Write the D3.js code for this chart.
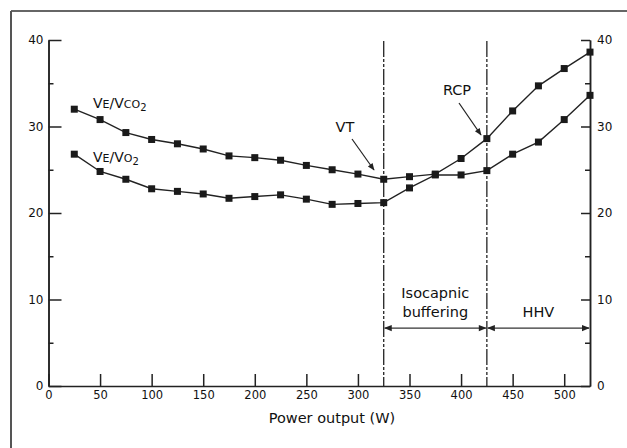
<!DOCTYPE html>
<html>
<head>
<meta charset="utf-8">
<script src="https://cdn.jsdelivr.net/npm/d3@7"></script>
<style>
  body { margin: 0; background: #fff; }
  svg { display: block; font-family: "DejaVu Sans", Verdana, sans-serif; }
</style>
</head>
<body>
<svg id="chart" width="627" height="448"></svg>
<script>
// power output steps (W)
const power = [25, 50, 75, 100, 125, 150, 175, 200, 225, 250, 275, 300, 325,
               350, 375, 400, 425, 450, 475, 500, 525];
// VE/VCO2
const veVco2 = [32.0, 30.8, 29.3, 28.5, 28.0, 27.4, 26.6, 26.4, 26.1, 25.5, 25.0,
                24.5, 23.9, 24.2, 24.5, 26.3, 28.6, 31.8, 34.7, 36.7, 38.6];
// VE/VO2
const veVo2 = [26.8, 24.8, 23.9, 22.8, 22.5, 22.2, 21.7, 21.9, 22.1, 21.6, 21.0,
               21.1, 21.2, 22.9, 24.4, 24.4, 24.9, 26.8, 28.2, 30.8, 33.6];
const xTicks = [0, 50, 100, 150, 200, 250, 300, 350, 400, 450, 500];
const yTicks = [0, 10, 20, 30, 40];
const yMinor = [5, 15, 25, 35];
const thresholds = [325, 425]; // VT, RCP

const svg = d3.select("#chart");

// frame (only top and left visible in the crop)
svg.append("line").attr("x1", 11).attr("y1", 11).attr("x2", 627).attr("y2", 11)
  .attr("stroke", "#333").attr("stroke-width", 1.5);
svg.append("line").attr("x1", 11).attr("y1", 11).attr("x2", 11).attr("y2", 448)
  .attr("stroke", "#555").attr("stroke-width", 2);

const x = d3.scaleLinear().domain([0, 525]).range([48.5, 590]);
const y = d3.scaleLinear().domain([0, 40]).range([386, 40]);

function styleAxis(g, size) {
  g.selectAll("path, line").attr("stroke", "#222").attr("stroke-width", 1.5);
  g.selectAll("text").attr("fill", "#111").style("font-size", size + "px")
    .style("font-family", "DejaVu Sans, sans-serif");
}

// left axis
svg.append("g").attr("transform", `translate(${x(0)},0)`)
  .call(d3.axisLeft(y).tickValues(yTicks).tickSize(-13).tickSizeOuter(0).tickPadding(5))
  .call(styleAxis, 12);
svg.append("g").attr("transform", `translate(${x(0)},0)`)
  .call(d3.axisLeft(y).tickValues(yMinor).tickSize(-5).tickSizeOuter(0).tickFormat(""))
  .call(styleAxis, 12);

// right axis
svg.append("g").attr("transform", `translate(${x(525)},0)`)
  .call(d3.axisRight(y).tickValues(yTicks).tickSize(-9).tickSizeOuter(0).tickPadding(7))
  .call(styleAxis, 12);
svg.append("g").attr("transform", `translate(${x(525)},0)`)
  .call(d3.axisRight(y).tickValues(yMinor).tickSize(-5).tickSizeOuter(0).tickFormat(""))
  .call(styleAxis, 12);

// bottom axis
svg.append("g").attr("transform", `translate(0,${y(0)})`)
  .call(d3.axisBottom(x).tickValues(xTicks).tickSize(-12).tickSizeOuter(0).tickPadding(5))
  .call(styleAxis, 11.5);

svg.append("text").attr("x", 332).attr("y", 423).attr("text-anchor", "middle")
  .style("font-size", "14.5px").attr("fill", "#111").text("Power output (W)");

// threshold lines
svg.selectAll(".thr").data(thresholds).enter().append("line")
  .attr("class", "thr")
  .attr("x1", d => x(d)).attr("x2", d => x(d))
  .attr("y1", 41).attr("y2", y(0))
  .attr("stroke", "#222").attr("stroke-width", 1.3)
  .attr("stroke-dasharray", "16,2,3,2,3,2");

// arrow markers
const defs = svg.append("defs");
defs.append("marker").attr("id", "ah").attr("viewBox", "0 0 10 10")
  .attr("refX", 9).attr("refY", 5).attr("markerWidth", 7).attr("markerHeight", 6)
  .attr("orient", "auto-start-reverse")
  .append("path").attr("d", "M0,1 L10,5 L0,9 Z").attr("fill", "#222");

// region arrows
const regions = [[325, 425], [425, 525]];
svg.selectAll(".reg").data(regions).enter().append("line")
  .attr("class", "reg")
  .attr("x1", d => x(d[0]) + 1).attr("x2", d => x(d[1]) - 1)
  .attr("y1", y(6.7)).attr("y2", y(6.7))
  .attr("stroke", "#333").attr("stroke-width", 1.3)
  .attr("marker-start", "url(#ah)").attr("marker-end", "url(#ah)");

svg.append("text").attr("x", x(375)).attr("y", 298).attr("text-anchor", "middle")
  .style("font-size", "14.5px").attr("fill", "#111").text("Isocapnic");
svg.append("text").attr("x", x(375)).attr("y", 317).attr("text-anchor", "middle")
  .style("font-size", "14.5px").attr("fill", "#111").text("buffering");
svg.append("text").attr("x", x(475)).attr("y", 317).attr("text-anchor", "middle")
  .style("font-size", "14.5px").attr("fill", "#111").text("HHV");

// series lines
const line = d3.line().x((d, i) => x(power[i])).y(d => y(d));
[veVco2, veVo2].forEach(s => {
  svg.append("path").datum(s).attr("d", line)
    .attr("fill", "none").attr("stroke", "#222").attr("stroke-width", 1.4);
  svg.append("g").selectAll("rect").data(s).enter().append("rect")
    .attr("x", (d, i) => x(power[i]) - 3.5).attr("y", d => y(d) - 3.5)
    .attr("width", 7).attr("height", 7).attr("fill", "#1a1a1a");
});

// series labels
function seriesLabel(xp, yp, sub) {
  const t = svg.append("text").attr("x", xp).attr("y", yp)
    .attr("fill", "#111").style("font-size", "14px");
  t.append("tspan").text("V");
  t.append("tspan").style("font-size", "11px").text("E");
  t.append("tspan").text("/V");
  t.append("tspan").style("font-size", "11px").text(sub);
  t.append("tspan").style("font-size", "10px").attr("dy", 3).text("2");
}
seriesLabel(93, 108, "CO");
seriesLabel(93, 162, "O");

// VT and RCP annotations
svg.append("text").attr("x", 345).attr("y", 132).attr("text-anchor", "middle")
  .style("font-size", "14.5px").attr("fill", "#111").text("VT");
svg.append("line").attr("x1", 352).attr("y1", 139).attr("x2", 374).attr("y2", 170)
  .attr("stroke", "#222").attr("stroke-width", 1.2).attr("marker-end", "url(#ah)");
svg.append("text").attr("x", 457).attr("y", 95).attr("text-anchor", "middle")
  .style("font-size", "14.5px").attr("fill", "#111").text("RCP");
svg.append("line").attr("x1", 459).attr("y1", 103).attr("x2", 481).attr("y2", 135)
  .attr("stroke", "#222").attr("stroke-width", 1.2).attr("marker-end", "url(#ah)");
</script>
</body>
</html>
